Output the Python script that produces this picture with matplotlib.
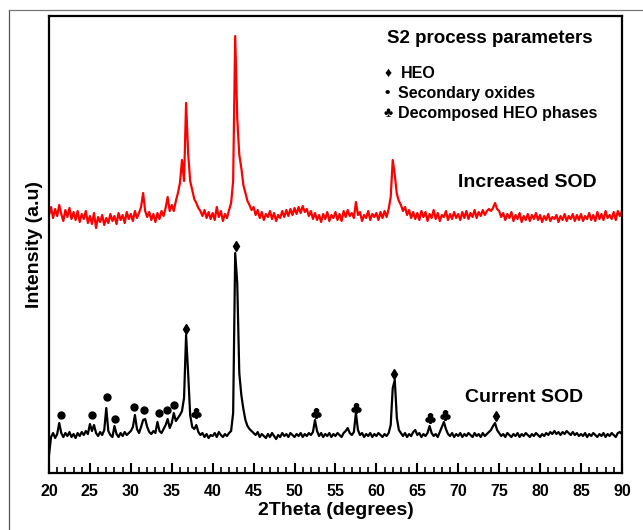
import numpy as np
import matplotlib.pyplot as plt
from matplotlib.lines import Line2D

plt.rcParams['font.family'] = ['Liberation Sans', 'DejaVu Sans']
plt.rcParams['font.weight'] = 'bold'

# 2theta sampling (degrees), 0.25 deg step
two_theta = np.arange(20, 90.001, 0.25)

# Current SOD pattern (a.u.)
current_sod = [
    18, 36, 40, 35, 39, 50, 40, 36, 40, 37, 41, 36, 39, 35, 40, 37, 41, 38, 42, 39,
    49, 42, 48, 40, 37, 41, 38, 43, 65, 42, 38, 36, 47, 39, 36, 40, 37, 41, 38, 40,
    42, 46, 58, 44, 40, 46, 53, 54, 46, 41, 39, 42, 40, 51, 42, 40, 44, 48, 54, 45,
    50, 60, 52, 55, 58, 62, 75, 138, 100, 58, 46, 44, 48, 41, 38, 40, 36, 39, 35, 38,
    37, 40, 36, 41, 38, 36, 39, 37, 40, 42, 60, 220, 190, 100, 78, 64, 53, 47, 44, 42,
    40, 38, 41, 36, 39, 37, 35, 39, 36, 40, 37, 34, 38, 36, 40, 37, 39, 36, 40, 38,
    36, 39, 37, 40, 36, 39, 37, 40, 38, 41, 53, 42, 37, 40, 36, 39, 37, 40, 36, 39,
    37, 40, 38, 36, 40, 42, 45, 40, 38, 41, 60, 43, 38, 40, 36, 39, 37, 40, 36, 39,
    37, 40, 38, 36, 39, 37, 40, 48, 85, 93, 55, 43, 40, 37, 40, 36, 39, 37, 41, 43,
    38, 40, 36, 39, 37, 40, 47, 40, 37, 39, 36, 41, 46, 51, 44, 39, 37, 40, 36, 39,
    37, 40, 36, 39, 37, 40, 38, 36, 40, 37, 39, 36, 40, 37, 39, 41, 43, 47, 50, 43,
    40, 37, 39, 36, 40, 38, 36, 39, 37, 40, 36, 39, 37, 40, 38, 36, 39, 37, 40, 38,
    36, 39, 37, 40, 38, 41, 39, 42, 39, 41, 38, 41, 39, 42, 40, 38, 41, 38, 40, 37,
    39, 37, 40, 36, 39, 37, 40, 38, 36, 39, 37, 40, 36, 39, 37, 40, 38, 36, 40, 41,
    39,
]

# Increased SOD pattern (a.u., stacked above)
increased_sod = [
    258, 266, 255, 264, 257, 268, 259, 252, 263, 256, 265, 254, 261, 253, 262, 251, 259, 254, 262, 250,
    257, 249, 260, 245, 256, 251, 258, 248, 255, 250, 259, 252, 257, 249, 260, 253, 258, 250, 261, 254,
    259, 252, 262, 255, 260, 266, 280, 262, 256, 261, 253, 259, 251, 260, 254, 262, 257, 265, 276, 262,
    268, 262, 272, 280, 290, 313, 292, 370, 320, 292, 283, 274, 270, 265, 262, 257, 263, 255, 261, 254,
    260, 253, 266, 256, 262, 252, 259, 255, 263, 270, 292, 437, 355, 318, 305, 288, 280, 272, 268, 263,
    266, 258, 263, 255, 261, 253, 259, 256, 262, 254, 260, 252, 258, 255, 262, 256, 263, 257, 264, 258,
    265, 259, 266, 260, 267, 261, 264, 257, 262, 254, 260, 253, 258, 251, 259, 254, 261, 252, 258, 255,
    261, 253, 259, 252, 262, 256, 263, 257, 260, 255, 271, 258, 261, 252, 258, 255, 262, 253, 259, 256,
    260, 253, 261, 255, 262, 256, 264, 276, 313, 298, 279, 272, 268, 262, 266, 258, 263, 255, 261, 254,
    260, 253, 262, 256, 261, 252, 259, 255, 263, 254, 260, 252, 258, 256, 262, 253, 259, 254, 261, 255,
    259, 253, 261, 255, 262, 254, 260, 256, 263, 255, 261, 257, 263, 258, 262, 264, 262, 265, 270, 264,
    262, 256, 260, 253, 259, 255, 261, 252, 258, 254, 260, 251, 257, 253, 259, 252, 258, 254, 260, 253,
    258, 251, 257, 253, 259, 252, 256, 254, 258, 251, 257, 253, 259, 252, 257, 254, 259, 252, 258, 253,
    259, 252, 257, 254, 260, 253, 258, 252, 261, 254, 259, 253, 262, 255, 258, 254, 261, 253, 262, 257,
    262,
]

# phase markers on the current SOD pattern
heo_pos = [36.8, 42.9, 62.2, 74.6]
heo_level = [144, 227, 99, 57]
oxide_pos = [21.5, 25.2, 27.1, 28.1, 30.4, 31.6, 33.4, 34.4, 35.3]
oxide_level = [58, 58, 76, 54, 66, 63, 60, 63, 68]
decomp_pos = [38.0, 52.6, 57.5, 66.6, 68.4]
decomp_level = [60, 60, 65, 55, 58]

fig = plt.figure(figsize=(6.43, 5.30), dpi=100)
ax = fig.add_axes([0.0762, 0.1075, 0.891, 0.8623])

ax.plot(two_theta, increased_sod, color='#ff0000', lw=1.6)
ax.plot(two_theta, current_sod, color='black', lw=1.6)

ax.plot(heo_pos, heo_level, 'd', color='black', ms=5.5, ls='none')
ax.plot(oxide_pos, oxide_level, 'o', color='black', ms=5, ls='none')
ax.plot(decomp_pos, decomp_level, marker=r'$\clubsuit$', color='black', ms=7, ls='none')

ax.set_xlim(20, 90)
ax.set_ylim(0, 457)
ax.set_xticks(np.arange(20, 91, 5))
ax.set_xticks(np.arange(20, 91, 1), minor=True)
ax.set_yticks([])
ax.tick_params(axis='x', which='major', direction='in', length=7, width=1.5, labelsize=11.5, pad=8)
ax.tick_params(axis='x', which='minor', direction='in', length=4, width=1.2)
for lbl in ax.get_xticklabels():
    lbl.set_fontweight('bold')
for sp in ax.spines.values():
    sp.set_linewidth(1.6)

ax.set_xlabel('2Theta (degrees)', fontsize=14, fontweight='bold', labelpad=2)
ax.set_ylabel('Intensity (a.u)', fontsize=14, fontweight='bold', labelpad=4)

ax.text(61.3, 435, 'S2 process parameters', fontsize=13.5, fontweight='bold', va='center')
ax.text(61.0, 400, '\u2666', fontsize=10, va='center')
ax.text(63.0, 400, 'HEO', fontsize=11.5, fontweight='bold', va='center')
ax.text(61.0, 380, '\u2022', fontsize=11, va='center')
ax.text(62.7, 380, 'Secondary oxides', fontsize=11.5, fontweight='bold', va='center')
ax.text(60.9, 360, '\u2663', fontsize=10, va='center')
ax.text(62.7, 360, 'Decomposed HEO phases', fontsize=11.5, fontweight='bold', va='center')

ax.text(70.0, 291, 'Increased SOD', fontsize=14, fontweight='bold', va='center')
ax.text(70.8, 76, 'Current SOD', fontsize=14, fontweight='bold', va='center')

# outer frame lines of the figure panel
fig.add_artist(Line2D([0.014, 0.014], [0.0, 0.981], color='#555555', lw=0.9))
fig.add_artist(Line2D([0.014, 1.0], [0.981, 0.981], color='#777777', lw=0.9))

fig.savefig('out.png', dpi=100)
